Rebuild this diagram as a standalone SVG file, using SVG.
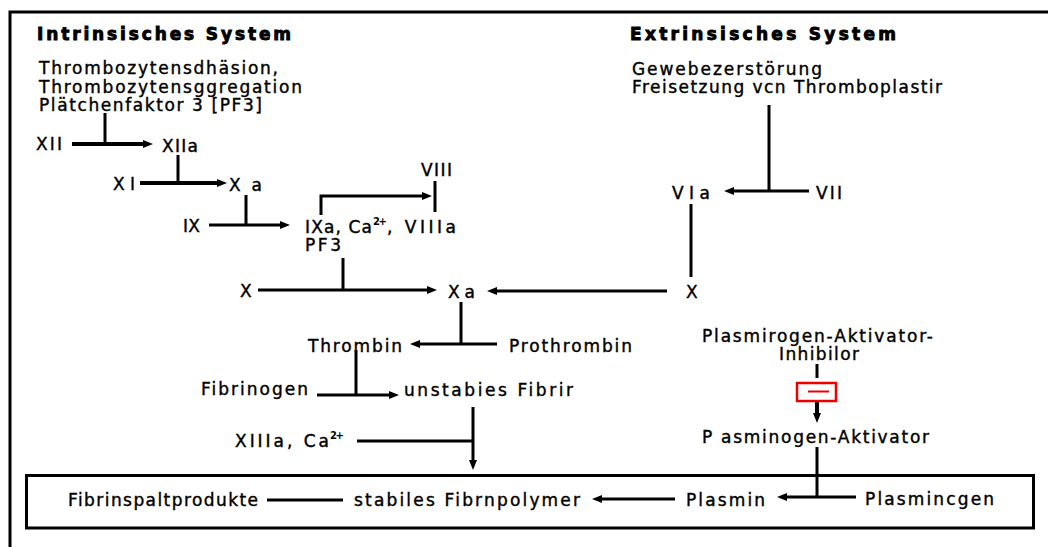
<svg xmlns="http://www.w3.org/2000/svg" width="1048" height="547" viewBox="0 0 1048 547">
<style>
.t{font-family:"DejaVu Sans","Liberation Sans",Arial,sans-serif;font-size:17px;fill:#000;stroke:#000;stroke-width:0.4}
.b{font-weight:bold;stroke-width:0.9}
.sup{font-family:"DejaVu Sans","Liberation Sans",Arial,sans-serif;font-size:10px;font-weight:bold;fill:#000}
.ln{stroke:#000;stroke-width:3;fill:none}
.thk{stroke-width:4}
.red{stroke:#ee0000;fill:none}
</style>
<defs>
<marker id="ah" markerUnits="userSpaceOnUse" markerWidth="10" markerHeight="8" refX="3" refY="4" orient="auto"><path d="M0,0 L10,4 L0,8 z" fill="#000"/></marker>
</defs>
<rect x="0" y="0" width="1048" height="547" fill="#fff"/>
<g id="frame">
<path class="ln" d="M10,547 V12 H1048"/>
<rect x="26.5" y="475.5" width="1007" height="52.5" fill="none" stroke="#000" stroke-width="3"/>
</g>
<g id="connectors">
<path class="ln" d="M105,113 V144"/>
<path class="ln thk" d="M72,144 H146" marker-end="url(#ah)"/>
<path class="ln" d="M178,155 V183"/>
<path class="ln thk" d="M140,183 H220" marker-end="url(#ah)"/>
<path class="ln" d="M246,195 V225"/>
<path class="ln" d="M209,225 H283" marker-end="url(#ah)"/>
<path class="ln" d="M321,215 V196 H425" marker-end="url(#ah)"/>
<path class="ln" d="M435,181 V212"/>
<path class="ln" d="M343,258 V290"/>
<path class="ln" d="M258,290 H430" marker-end="url(#ah)"/>
<path class="ln" d="M667,291 H494" marker-end="url(#ah)"/>
<path class="ln" d="M691,204 V277"/>
<path class="ln" d="M769,105 V191"/>
<path class="ln" d="M809,191 H731" marker-end="url(#ah)"/>
<path class="ln" d="M461,302 V344"/>
<path class="ln" d="M497,344 H417" marker-end="url(#ah)"/>
<path class="ln" d="M356,350 V395"/>
<path class="ln" d="M317,395 H392" marker-end="url(#ah)"/>
<path class="ln" d="M473,407 V463" marker-end="url(#ah)"/>
<path class="ln" d="M357,441 H473"/>
<path class="ln" d="M817,364 V378" stroke-width="5"/>
<path class="ln thk" d="M817,401 V416" marker-end="url(#ah)"/>
<path class="ln" d="M817,447 V497"/>
<path class="ln" d="M856,497 H784" marker-end="url(#ah)"/>
<path class="ln" d="M675,499 H599" stroke-width="5" marker-end="url(#ah)"/>
<path class="ln" d="M267,500 H343"/>
</g>
<g id="inhibition">
<rect class="red" x="797" y="383" width="39" height="18" stroke-width="2.5"/>
<path class="red" d="M808,391.5 H829" stroke-width="2"/>
</g>
<g id="intrinsic-title"><text class="t b" x="37" y="40" textLength="254" lengthAdjust="spacing">Intrinsisches System</text></g>
<g id="extrinsic-title"><text class="t b" x="630" y="40" textLength="266" lengthAdjust="spacing">Extrinsisches System</text></g>
<g id="intrinsic-trigger">
<text class="t" x="39" y="74" textLength="239" lengthAdjust="spacing">Thrombozytensdhäsion,</text>
<text class="t" x="39" y="92.5" textLength="263" lengthAdjust="spacing">Thrombozytensggregation</text>
<text class="t" x="39" y="111" textLength="223" lengthAdjust="spacing">Plätchenfaktor 3 [PF3]</text>
</g>
<g id="extrinsic-trigger">
<text class="t" x="632" y="75" textLength="190" lengthAdjust="spacing">Gewebezerstörung</text>
<text class="t" x="632" y="93" textLength="310" lengthAdjust="spacing">Freisetzung vcn Thromboplastir</text>
</g>
<g id="XII"><text class="t" x="36" y="150" textLength="26" lengthAdjust="spacing">XII</text></g>
<g id="XIIa"><text class="t" x="162" y="152" textLength="36" lengthAdjust="spacing">XIIa</text></g>
<g id="XI"><text class="t" x="113" y="190" textLength="22" lengthAdjust="spacing">XI</text></g>
<g id="XIa"><text class="t" x="229" y="191" textLength="33" lengthAdjust="spacing">X a</text></g>
<g id="IX"><text class="t" x="183" y="232" textLength="17" lengthAdjust="spacing">IX</text></g>
<g id="IXa-complex">
<text class="t" x="305" y="233" textLength="67" lengthAdjust="spacing">IXa, Ca</text>
<text class="sup" x="373" y="225" textLength="14" lengthAdjust="spacing">2+</text>
<text class="t" x="387" y="233" textLength="69" lengthAdjust="spacing">, VIIIa</text>
<text class="t" x="305" y="251" textLength="36" lengthAdjust="spacing">PF3</text>
</g>
<g id="VIII"><text class="t" x="421" y="176" textLength="31" lengthAdjust="spacing">VIII</text></g>
<g id="X-left"><text class="t" x="240" y="297" textLength="12" lengthAdjust="spacing">X</text></g>
<g id="Xa"><text class="t" x="448" y="298" textLength="27" lengthAdjust="spacing">Xa</text></g>
<g id="X-right"><text class="t" x="686" y="298" textLength="12" lengthAdjust="spacing">X</text></g>
<g id="VIa"><text class="t" x="672" y="199" textLength="38" lengthAdjust="spacing">VIa</text></g>
<g id="VII"><text class="t" x="816" y="199" textLength="26" lengthAdjust="spacing">VII</text></g>
<g id="Thrombin"><text class="t" x="308" y="352" textLength="94" lengthAdjust="spacing">Thrombin</text></g>
<g id="Prothrombin"><text class="t" x="509" y="352" textLength="123" lengthAdjust="spacing">Prothrombin</text></g>
<g id="Fibrinogen"><text class="t" x="201" y="395" textLength="107" lengthAdjust="spacing">Fibrinogen</text></g>
<g id="unstable-fibrin"><text class="t" x="404" y="396" textLength="169" lengthAdjust="spacing">unstabies Fibrir</text></g>
<g id="XIIIa">
<text class="t" x="235" y="447" textLength="94" lengthAdjust="spacing">XIIIa, Ca</text>
<text class="sup" x="330" y="439" textLength="14" lengthAdjust="spacing">2+</text>
</g>
<g id="PAI">
<text class="t" x="702" y="342" textLength="231" lengthAdjust="spacing">Plasmirogen-Aktivator-</text>
<text class="t" x="779" y="360" textLength="80" lengthAdjust="spacing">Inhibilor</text>
</g>
<g id="PA"><text class="t" x="702" y="443" textLength="227" lengthAdjust="spacing">P asminogen-Aktivator</text></g>
<g id="Fibrinspaltprodukte"><text class="t" x="68" y="506" textLength="190" lengthAdjust="spacing">Fibrinspaltprodukte</text></g>
<g id="stable-fibrin"><text class="t" x="354" y="506" textLength="226" lengthAdjust="spacing">stabiles Fibrnpolymer</text></g>
<g id="Plasmin"><text class="t" x="686" y="506" textLength="79" lengthAdjust="spacing">Plasmin</text></g>
<g id="Plasminogen"><text class="t" x="865" y="505" textLength="129" lengthAdjust="spacing">Plasmincgen</text></g>
</svg>
